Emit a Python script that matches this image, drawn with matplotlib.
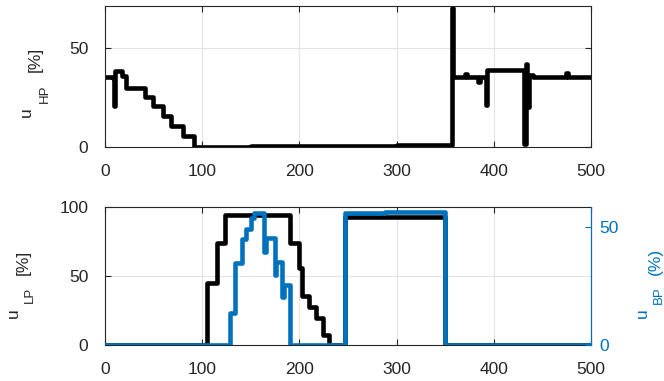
import matplotlib
matplotlib.use('Agg')
import matplotlib.pyplot as plt

plt.rcParams['font.family'] = ['Liberation Sans', 'DejaVu Sans']

# top: u_HP [%] (step changes, held until next time)
hp_t = [0, 8, 9, 10, 18, 22, 41, 49, 60, 68, 80, 92, 150, 250, 300, 357, 358,
        370, 372, 384, 386, 392, 393.5, 431, 433, 434.5, 436, 440, 474, 476, 505]
hp_u = [35.5, 35, 20.5, 38.2, 36, 30, 25, 20.5, 15.4, 10.4, 5.4, 0, 0.3, 0.6, 0.8, 70, 35.5,
        37, 35.5, 33, 35.5, 21, 38.6, 1.5, 42, 20, 36.5, 35.5, 37.5, 35.5, 35.5]

# bottom: u_LP [%] (left axis, black)
lp_t = [0, 105, 115, 123.5, 190, 199.6, 203, 210, 217, 224, 231, 246.6, 350, 505]
lp_u = [0, 45, 74, 94, 74, 55.6, 35.5, 27.3, 19.3, 7, 0, 93, 0, 0]

# bottom: u_BP (%) (right axis, blue)
bp_t = [0, 129, 133.4, 141.3, 145.5, 150.6, 153, 164, 165.5, 174.6, 176, 182.5, 184,
        190, 246.6, 288, 350, 505]
bp_u = [0, 13.4, 34.9, 44.8, 49.4, 53.7, 55.8, 39.5, 45.2, 29.7, 35.3, 20.5, 25.4,
        0, 55.8, 56.5, 0, 0]

xticks = [0, 100, 200, 300, 400, 500]
dark = '#262626'
grid_c = '#e3e3e3'
blue = '#0072BD'

W, H = 664, 381
fig = plt.figure(figsize=(W / 100, H / 100), dpi=100)
ax1 = fig.add_axes([0.158, 0.614, 0.732, 0.370])
ax2 = fig.add_axes([0.158, 0.0945, 0.732, 0.362])


def matlab_style(ax):
    ax.grid(True, color=grid_c, linewidth=0.8)
    ax.set_axisbelow(True)
    for s in ax.spines.values():
        s.set_color(dark)
        s.set_linewidth(0.8)
    ax.tick_params(direction='in', length=4, width=0.8, colors=dark, labelsize=12.5,
                   top=True, right=True)
    ax.tick_params(axis='x', pad=12)
    ax.tick_params(axis='y', pad=12)
    ax.set_xticks(xticks)
    ax.set_xlim(0, 500)


def matlab_label(parts, color):
    # label written piece by piece like MATLAB's tex subscript (u, subscript, unit)
    # parts: (text, baseline x px, centre y px, size)
    for txt, x, y, size in parts:
        fig.text(x / W, 1 - y / H, txt, rotation=90, rotation_mode='anchor',
                 ha='center', va='baseline', fontsize=size, color=color)


# top plot
ax1.plot(hp_t, hp_u, color='black', linewidth=3.3, drawstyle='steps-post')
matlab_style(ax1)
ax1.set_ylim(0, 71)
ax1.set_yticks([0, 50])
matlab_label([('u', 30.7, 112.5, 12.5), ('HP', 48, 93.5, 9.5), ('[%]', 39.5, 59, 12.5)], dark)

# bottom plot, two y axes
ax2.plot(lp_t, lp_u, color='black', linewidth=3.3, drawstyle='steps-post')
matlab_style(ax2)
ax2.tick_params(right=False)
ax2.set_ylim(0, 100)
ax2.set_yticks([0, 50, 100])
matlab_label([('u', 18.3, 313, 12.5), ('LP', 33, 295, 9.5), ('[%]', 28, 262.5, 12.5)], dark)

ax3 = ax2.twinx()
ax3.set_position(ax2.get_position())
ax3.plot(bp_t, bp_u, color=blue, linewidth=3.3, drawstyle='steps-post')
ax3.set_xlim(0, 500)
ax3.set_ylim(0, 58.5)
ax3.set_yticks([0, 50])
ax3.tick_params(direction='in', length=4, width=0.8, colors=blue, labelsize=12.5, pad=6)
for s in ['left', 'top', 'bottom']:
    ax3.spines[s].set_visible(False)
ax3.spines['right'].set_color(blue)
ax3.spines['right'].set_linewidth(0.8)
matlab_label([('u', 646.7, 313.3, 12.5), ('BP', 661.7, 295, 9.5), ('(%)', 659.5, 261.7, 12.5)], blue)

fig.savefig('out.png', dpi=100)
